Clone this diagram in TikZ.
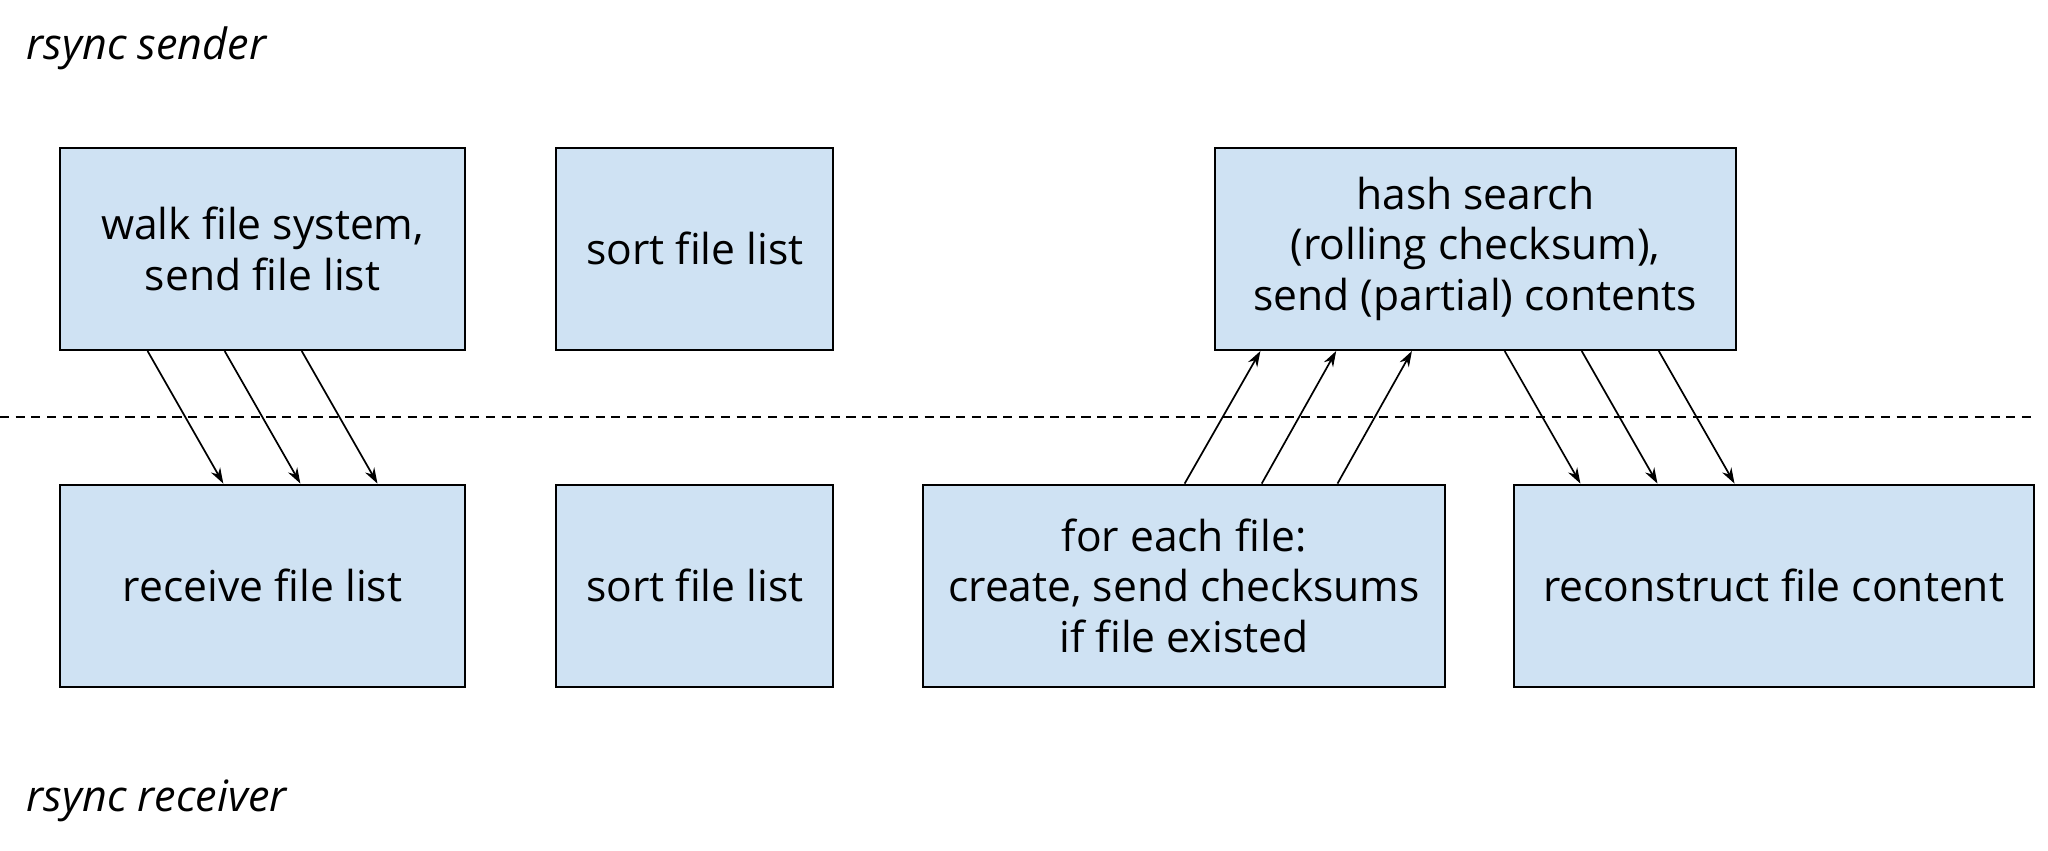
\documentclass[tikz,border=0pt]{standalone}
\usepackage{fontspec}
\setmainfont{Open Sans}[Ligatures=NoCommon]
\usetikzlibrary{calc,arrows.meta}
\definecolor{boxblue}{HTML}{CFE2F3}

\begin{document}
\begin{tikzpicture}[x=1pt, y=-1pt, >={Stealth[length=12pt,width=8pt]}, line width=1.3pt,
  stepbox/.style={draw, line width=1.5pt, fill=boxblue, align=center, inner sep=0pt,
    minimum height=155pt, font=\fontsize{32.6}{38.5}\selectfont},
  side/.style={anchor=west, inner sep=0pt, font=\fontsize{33}{38}\selectfont\itshape}]
\useasboundingbox (0,0) rectangle (1568,651);

\node[side] (snd) at (20,37) {rsync sender};
\node[side] (rcv) at (20,613) {rsync receiver};

\draw [dashed, dash pattern=on 7pt off 5pt] (0,319)--(1557,319);

\node[stepbox, minimum width=310pt] (walk) at (201,190.5) {walk file system,\\send file list};
\node[stepbox, minimum width=212pt] (sortS) at (532,190.5) {sort file list};
\node[stepbox, minimum width=399pt] (hash) at (1129.5,190.5) {hash search\\(rolling checksum),\\send (partial) contents};

\node[stepbox, minimum width=310pt] (recv) at (201,448.5) {receive file list};
\node[stepbox, minimum width=212pt] (sortR) at (532,448.5) {sort file list};
\node[stepbox, minimum width=399pt] (each) at (906.5,448.5) {for each file:\\create, send checksums\\if file existed};
\node[stepbox, minimum width=398pt] (rebuild) at (1358,448.5) {reconstruct file content};

\draw [->] ($(walk.south)+(-88,0)$)--($(recv.north)+(-30,0)$);
\draw [->] ($(walk.south)+(-29,0)$)--($(recv.north)+(29,0)$);
\draw [->] ($(walk.south)+(30,0)$)--($(recv.north)+(88,0)$);

\draw [->] ($(each.north)+(0.5,0)$)--($(hash.south)+(-164.5,0)$);
\draw [->] ($(each.north)+(59.5,0)$)--($(hash.south)+(-106.5,0)$);
\draw [->] ($(each.north)+(117.5,0)$)--($(hash.south)+(-48.5,0)$);

\draw [->] ($(hash.south)+(22.5,0)$)--($(rebuild.north)+(-148,0)$);
\draw [->] ($(hash.south)+(81.5,0)$)--($(rebuild.north)+(-89,0)$);
\draw [->] ($(hash.south)+(140.5,0)$)--($(rebuild.north)+(-30,0)$);

\end{tikzpicture}
\end{document}
